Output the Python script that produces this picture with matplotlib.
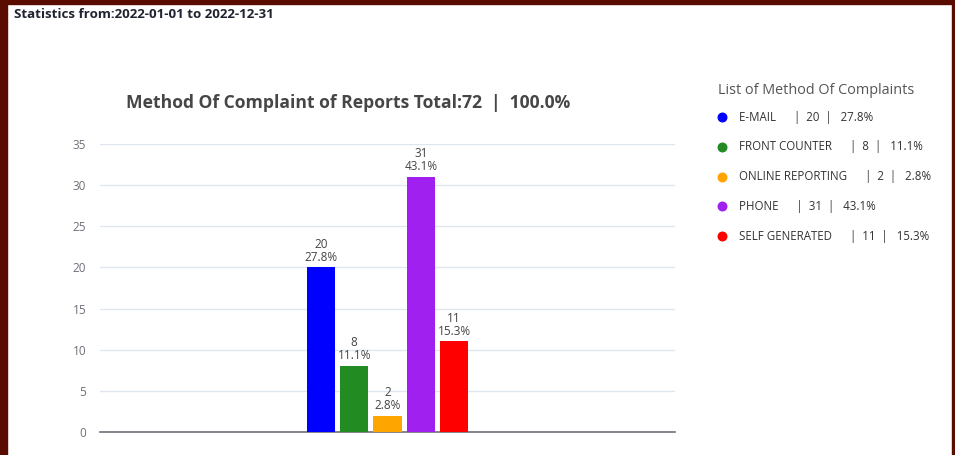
import matplotlib.pyplot as plt
from matplotlib.patches import Rectangle
import numpy as np

plt.rcParams['font.family'] = ['Open Sans', 'DejaVu Sans']

methods = ['E-MAIL', 'FRONT COUNTER', 'ONLINE REPORTING', 'PHONE', 'SELF GENERATED']
counts = [20, 8, 2, 31, 11]
percents = ['27.8%', '11.1%', '2.8%', '43.1%', '15.3%']
colors = ['#0000ff', '#228b22', '#ffa500', '#a020f0', '#ff0000']
total = 72
yticks = [0, 5, 10, 15, 20, 25, 30, 35]

W, H = 955, 455
fig = plt.figure(figsize=(W / 100, H / 100), dpi=100)
fig.patch.set_facecolor('white')

# plot area in pixels: x 100..675, y 144..432
ax = fig.add_axes([100 / W, (H - 432) / H, 575 / W, (432 - 144) / H])

step = 0.058
bw = 0.0487
offsets = (np.arange(len(counts)) - (len(counts) - 1) / 2) * step
bars = ax.bar(offsets, counts, width=bw, color=colors, zorder=3)

for b, c, p in zip(bars, counts, percents):
    ax.text(b.get_x() + b.get_width() / 2, c + 0.45, f"{c}\n{p}",
            ha='center', va='bottom', fontsize=8.5, color='#444444',
            linespacing=1.0, zorder=4)

ax.set_xlim(-0.5, 0.5)
ax.set_ylim(0, 35)
ax.set_yticks(yticks)
ax.set_xticks([])
ax.yaxis.grid(True, color='#e0e6f1', linewidth=1)
ax.set_axisbelow(True)
for s in ['top', 'right', 'left']:
    ax.spines[s].set_visible(False)
ax.spines['bottom'].set_color('#6e7079')
ax.spines['bottom'].set_linewidth(1.2)
ax.tick_params(axis='y', length=0, pad=10, labelsize=8.5, labelcolor='#6e7079')

fig.text(348 / W, 1 - 103 / H, f"Method Of Complaint of Reports Total:{total}  |  100.0%",
         ha='center', va='center', fontsize=12.6, fontweight='bold', color='#464646')

fig.text(14 / W, 1 - 15 / H, "Statistics from:2022-01-01 to 2022-12-31",
         ha='left', va='center', fontsize=9.6, fontweight='bold', color='#1f2430')

# legend on the right
fig.text(718 / W, 1 - 91 / H, "List of Method Of Complaints",
         ha='left', va='center', fontsize=10.4, color='#555555')
leg = fig.add_axes([0, 0, 1, 1], facecolor='none')
leg.set_xlim(0, W)
leg.set_ylim(H, 0)
leg.axis('off')
for i, (m, c, p, col) in enumerate(zip(methods, counts, percents, colors)):
    y = 117 + i * 29.8
    leg.scatter([722], [y], s=38, color=col, zorder=3)
    leg.text(739, y, f"{m}      |  {c}  |   {p}", ha='left', va='center',
             fontsize=8.3, color='#333333')

# dark frame around the screenshot
frame = '#5a0c00'
fig.patches.append(Rectangle((0, 0), 7 / W, 1, transform=fig.transFigure, color=frame, zorder=10))
fig.patches.append(Rectangle((0, 1 - 4 / H), 1, 4 / H, transform=fig.transFigure, color=frame, zorder=10))
fig.patches.append(Rectangle((1 - 3 / W, 0), 3 / W, 1, transform=fig.transFigure, color=frame, zorder=10))

fig.savefig('out.png', dpi=100)
